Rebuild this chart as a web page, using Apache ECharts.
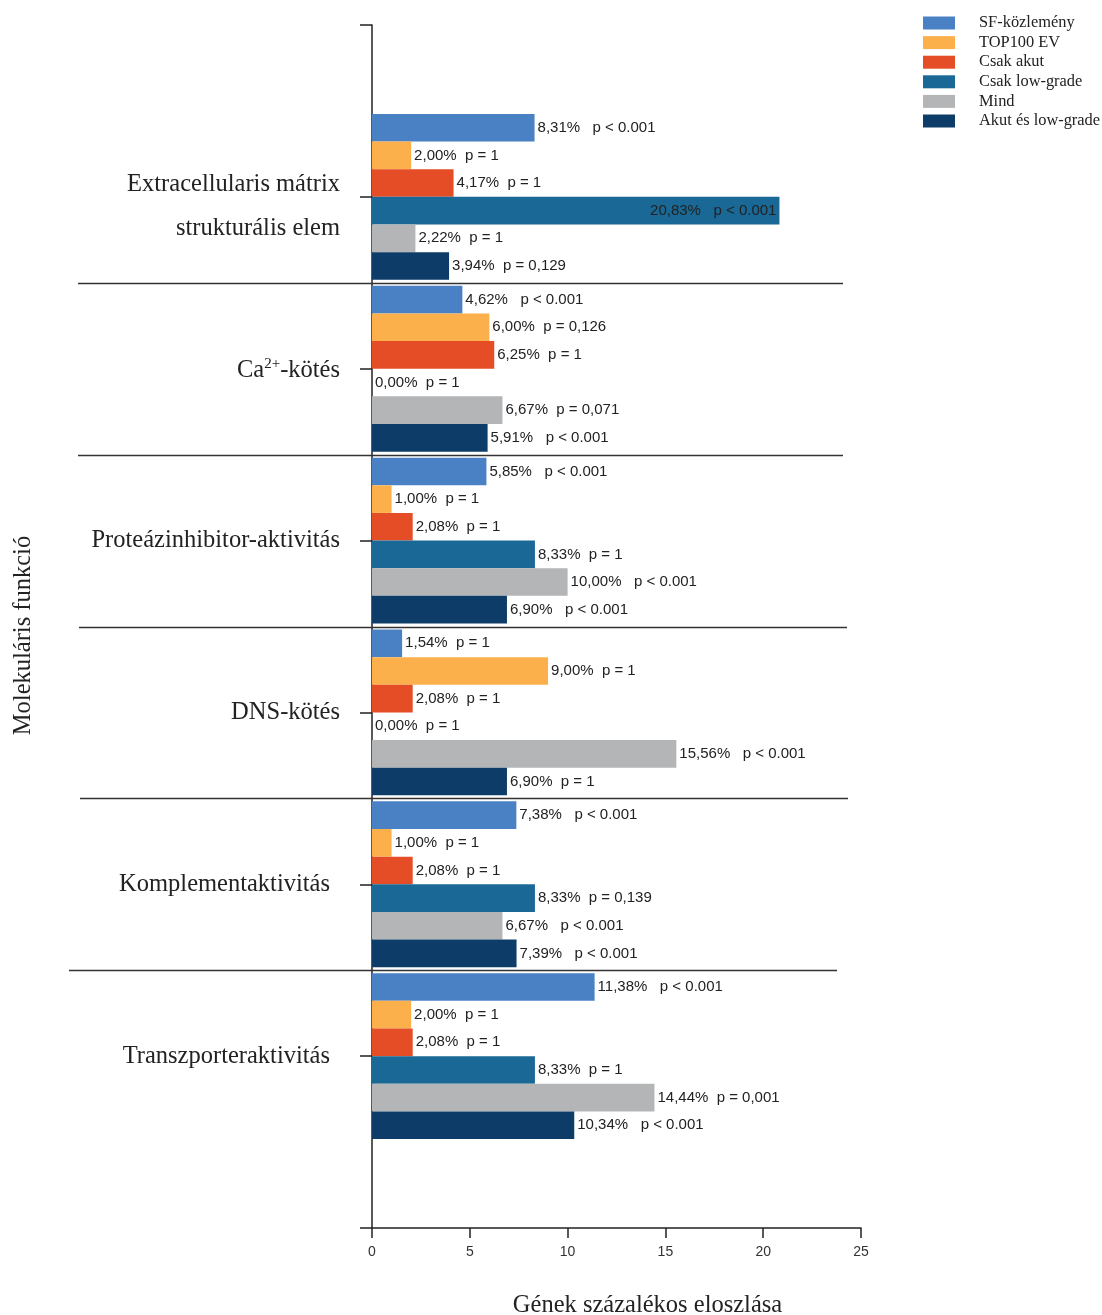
<!DOCTYPE html>
<html>
<head>
<meta charset="utf-8">
<script src="https://cdn.jsdelivr.net/npm/echarts@6/dist/echarts.min.js"></script>
<style>
  html, body { margin: 0; padding: 0; background: #fff; }
  #chart { width: 1102px; height: 1315px; }
</style>
</head>
<body>
<div id="chart"></div>
<script>
'use strict';

// categories (empty ends give the spare ticks at top and bottom of the axis)
var categories = ['', 'Extracellularis mátrix\nstrukturális elem', 'Ca2+-kötés',
    'Proteázinhibitor-aktivitás', 'DNS-kötés', 'Komplementaktivitás', 'Transzporteraktivitás', ''];

var seriesNames = ['SF-közlemény', 'TOP100 EV', 'Csak akut', 'Csak low-grade', 'Mind', 'Akut és low-grade'];
var colors = ['#4a80c4', '#fbb04b', '#e44d25', '#1a6895', '#b3b5b6', '#0e3c68'];

// percentages per series, one value per real category
var sfValues    = [8.31, 4.62, 5.85, 1.54, 7.38, 11.38];
var topValues   = [2.00, 6.00, 1.00, 9.00, 1.00, 2.00];
var akutValues  = [4.17, 6.25, 2.08, 2.08, 2.08, 2.08];
var lowValues   = [20.83, 0.00, 8.33, 0.00, 8.33, 8.33];
var mindValues  = [2.22, 6.67, 10.00, 15.56, 6.67, 14.44];
var bothValues  = [3.94, 5.91, 6.90, 6.90, 7.39, 10.34];

// p values shown next to each bar
var sfP   = ['p < 0.001', 'p < 0.001', 'p < 0.001', 'p = 1', 'p < 0.001', 'p < 0.001'];
var topP  = ['p = 1', 'p = 0,126', 'p = 1', 'p = 1', 'p = 1', 'p = 1'];
var akutP = ['p = 1', 'p = 1', 'p = 1', 'p = 1', 'p = 1', 'p = 1'];
var lowP  = ['p < 0.001', 'p = 1', 'p = 1', 'p = 1', 'p = 0,139', 'p = 1'];
var mindP = ['p = 1', 'p = 0,071', 'p < 0.001', 'p < 0.001', 'p < 0.001', 'p = 0,001'];
var bothP = ['p = 0,129', 'p < 0.001', 'p < 0.001', 'p = 1', 'p < 0.001', 'p < 0.001'];

var allValues = [sfValues, topValues, akutValues, lowValues, mindValues, bothValues];
var allP = [sfP, topP, akutP, lowP, mindP, bothP];

var sansFont = '"Liberation Sans", Arial, sans-serif';
var serifFont = '"Liberation Serif", "Times New Roman", serif';
var serifSize = 24.5;

function fmtPct(v) {
    return v.toFixed(2).replace('.', ',') + '%';
}

function buildSeries(idx) {
    var vals = allValues[idx];
    var ps = allP[idx];
    var data = ['-'];
    vals.forEach(function (v) {
        if (v > 18) {
            data.push({ value: v, label: { position: 'insideRight', distance: 3 } });
        } else {
            data.push(v);
        }
    });
    data.push('-');
    return {
        name: seriesNames[idx],
        type: 'bar',
        barGap: '0%',
        barCategoryGap: '3.5%',
        itemStyle: { color: colors[idx] },
        label: {
            show: true,
            position: 'right',
            distance: 3,
            fontFamily: sansFont,
            fontSize: 15,
            color: '#222',
            formatter: function (p) {
                var pv = ps[p.dataIndex - 1];
                var gap = pv.indexOf('<') >= 0 ? '   ' : '  ';
                return fmtPct(p.value) + gap + pv;
            }
        },
        data: data
    };
}

var chart = echarts.init(document.getElementById('chart'));

var option = {
    animation: false,
    backgroundColor: '#fff',
    grid: { left: 372, right: 241, top: 25, bottom: 87, outerBoundsMode: 'none' },
    legend: {
        orient: 'vertical',
        left: 923,
        top: 15,
        padding: 0,
        icon: 'rect',
        itemWidth: 32,
        itemHeight: 13,
        itemGap: 3.6,
        textStyle: { fontFamily: serifFont, fontSize: 16.4, color: '#222', padding: [0, 0, 0, 19] },
        data: seriesNames
    },
    xAxis: {
        type: 'value',
        min: 0,
        max: 25,
        interval: 5,
        name: 'Gének százalékos eloszlása',
        nameLocation: 'middle',
        nameGap: 65,
        nameTextStyle: { fontFamily: serifFont, fontSize: serifSize, color: '#222', padding: [0, 0, 0, 62] },
        axisLine: { show: true, lineStyle: { color: '#222', width: 1.5 } },
        axisTick: { show: true, length: 10, lineStyle: { color: '#222', width: 1.5 } },
        axisLabel: { fontFamily: sansFont, fontSize: 14, color: '#333', margin: 17 },
        splitLine: { show: false }
    },
    yAxis: {
        type: 'category',
        inverse: true,
        boundaryGap: false,
        data: categories,
        name: 'Molekuláris funkció',
        nameLocation: 'middle',
        nameRotate: 90,
        nameGap: 336,
        nameTextStyle: { fontFamily: serifFont, fontSize: serifSize, color: '#222', padding: [0, 18, 0, 0] },
        axisLine: { show: true, lineStyle: { color: '#222', width: 1.5 } },
        axisTick: { show: true, length: 12, lineStyle: { color: '#222', width: 1.5 } },
        axisLabel: {
            fontFamily: serifFont,
            fontSize: serifSize,
            color: '#222',
            margin: 32,
            formatter: function (v) {
                if (v.indexOf('Ca2+') === 0) {
                    return '{base|Ca}{sup|2+}{base|-kötés}';
                }
                if (v.indexOf('\n') >= 0) {
                    return v.split('\n').map(function (s) { return '{ex|' + s + '}'; }).join('\n');
                }
                if (v === 'Komplementaktivitás' || v === 'Transzporteraktivitás') {
                    return '{sh|' + v + '}';
                }
                return v;
            },
            rich: {
                base: { fontFamily: serifFont, fontSize: serifSize, color: '#222', lineHeight: 28, verticalAlign: 'bottom' },
                sup: { fontFamily: serifFont, fontSize: 15, color: '#222', lineHeight: 15, verticalAlign: 'top', padding: [2, 0, 0, 0] },
                ex: { fontFamily: serifFont, fontSize: serifSize, color: '#222', lineHeight: 44, padding: [20, 0, 0, 0] },
                sh: { fontFamily: serifFont, fontSize: serifSize, color: '#222', padding: [0, 10, 0, 0] }
            }
        },
        splitLine: { show: false }
    },
    series: seriesNames.map(function (n, i) { return buildSeries(i); })
};

chart.setOption(option);

// horizontal separators between the category groups
var sepExtents = [[78, 843], [78, 843], [79, 847], [80, 848], [69, 837]];
var graphics = [];
for (var k = 1; k <= 5; k++) {
    var y1 = chart.convertToPixel({ yAxisIndex: 0 }, categories[k]);
    var y2 = chart.convertToPixel({ yAxisIndex: 0 }, categories[k + 1]);
    var ym = Math.round((y1 + y2) / 2) + 0.5;
    graphics.push({
        type: 'line',
        shape: { x1: sepExtents[k - 1][0], y1: ym, x2: sepExtents[k - 1][1], y2: ym },
        style: { stroke: '#333', lineWidth: 1.5 },
        z: 10
    });
}
chart.setOption({ graphic: graphics });
</script>
</body>
</html>
